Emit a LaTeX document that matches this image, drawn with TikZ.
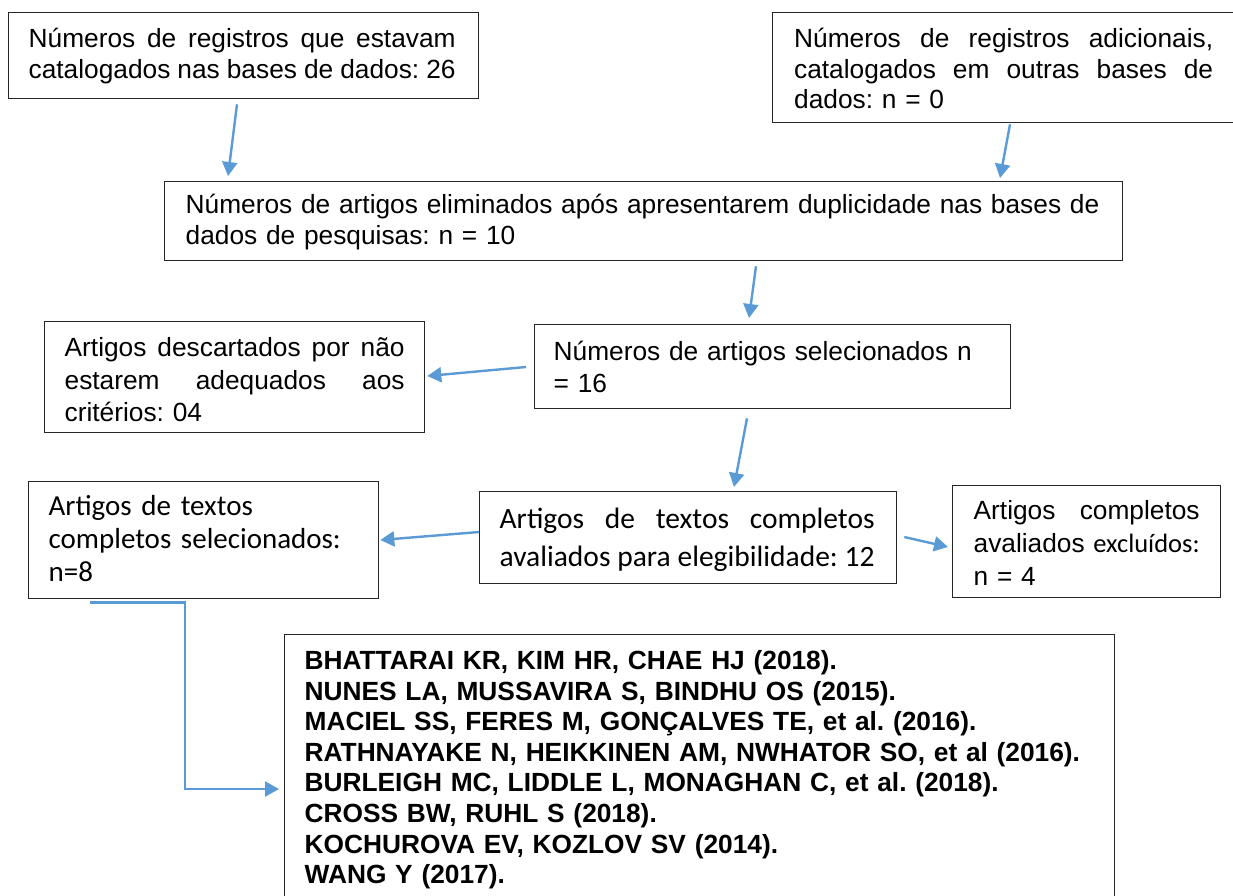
\documentclass[tikz,border=0pt]{standalone}
\usepackage{fontspec}
\setmainfont{Liberation Sans}
\newfontfamily\calibri{Carlito}
\usetikzlibrary{arrows.meta}
\definecolor{flowblue}{HTML}{5B9BD5}
\newcommand{\jline}[2][\hsize]{\makebox[#1][s]{\spaceskip=\fontdimen2\font plus 1fil minus 0.12em\relax #2}}

\begin{document}
\frenchspacing
\begin{tikzpicture}[x=1pt, y=-1pt,
  box/.style={draw=black!85, line width=1.3pt, anchor=north west, inner xsep=20pt, inner ysep=0pt, align=left, font=\fontsize{26.3}{30.5}\selectfont},
  cal/.style={font=\calibri\fontsize{29}{33}\selectfont},
  arr/.style={-{Triangle[length=14pt, width=15pt]}, line width=2.4pt, draw=flowblue}]
\useasboundingbox (0,0) rectangle (1233,895);
\node[box, text width=430pt, text height=35pt, text depth=51pt] (regA) at (8,12) {\jline[427pt]{Números de registros que estavam}\\\jline[427pt]{catalogados nas bases de dados: 26}};
\node[box, inner xsep=21.5pt, text width=419pt, text height=35pt, text depth=75pt] (regB) at (772,12) {\jline{Números de registros adicionais,}\\\jline{catalogados em outras bases de}\\dados: n = 0};
\node[box, inner xsep=21pt, text width=916pt, text height=32pt, text depth=47pt, font=\fontsize{26.3}{31}\selectfont] (regC) at (164,181) {Números de artigos eliminados após apresentarem duplicidade nas bases de\\dados de pesquisas: n = 10};
\node[box, inner xsep=19pt, text width=438pt, text height=36pt, text depth=48pt, font=\fontsize{26.3}{32}\selectfont] (regD) at (534,324) {Números de artigos selecionados n\\= 16};
\node[box, text width=340pt, text height=35pt, text depth=76pt, font=\fontsize{26.3}{32.5}\selectfont] (regF) at (44,321) {\jline{Artigos descartados por não}\\\jline{estarem adequados aos}\\critérios: 04};
\node[box, inner xsep=20pt, text width=377pt, text height=37pt, text depth=55pt, font=\calibri\fontsize{29.5}{38}\selectfont] (regG) at (479,491) {\jline[375pt]{Artigos de textos completos}\\\jline[375pt]{avaliados para elegibilidade: 12}};
\node[box, cal, text width=310pt, text height=34pt, text depth=83pt] (regH) at (28,481) {Artigos de textos\\completos selecionados:\\n=8};
\node[box, inner xsep=21pt, text width=226pt, text height=34pt, text depth=78pt, font=\fontsize{26.3}{33}\selectfont] (regI) at (952,485) {\jline{Artigos completos}\\\jline{avaliados {\calibri\fontsize{26.5}{33}\selectfont excluídos:}}\\n = 4};
\node[box, text width=790pt, text height=35pt, text depth=240pt, font=\bfseries\fontsize{26.3}{30.57}\selectfont] (regJ) at (284,634) {BHATTARAI KR, KIM HR, CHAE HJ (2018).\\NUNES LA, MUSSAVIRA S, BINDHU OS (2015).\\MACIEL SS, FERES M, GONÇALVES TE, et al. (2016).\\RATHNAYAKE N, HEIKKINEN AM, NWHATOR SO, et al (2016).\\BURLEIGH MC, LIDDLE L, MONAGHAN C, et al. (2018).\\CROSS BW, RUHL S (2018).\\KOCHUROVA EV, KOZLOV SV (2014).\\WANG Y (2017).};
\draw[arr] ([shift={(229,5)}]regA.south west) -- ([shift={(64,-5)}]regC.north west);
\draw[arr] ([shift={(238,1)}]regB.south west) -- ([shift={(836,-3)}]regC.north west);
\draw[arr] ([shift={(592,5)}]regC.south west) -- ([shift={(215,-6)}]regD.north west);
\draw[arr] ([shift={(-8,43)}]regD.north west) -- ([shift={(2,55)}]regF.north east);
\draw[arr] ([shift={(213,9)}]regD.south west) -- ([shift={(255,-4)}]regG.north west);
\draw[arr] ([shift={(0,41)}]regG.north west) -- ([shift={(1,59)}]regH.north east);
\draw[arr] ([shift={(7,46)}]regG.north east) -- ([shift={(-4,62)}]regI.north west);
\draw[arr] ([shift={(62,3)}]regH.south west) -- ++(95,0) |- ([shift={(-5,155)}]regJ.north west);
\end{tikzpicture}
\end{document}
